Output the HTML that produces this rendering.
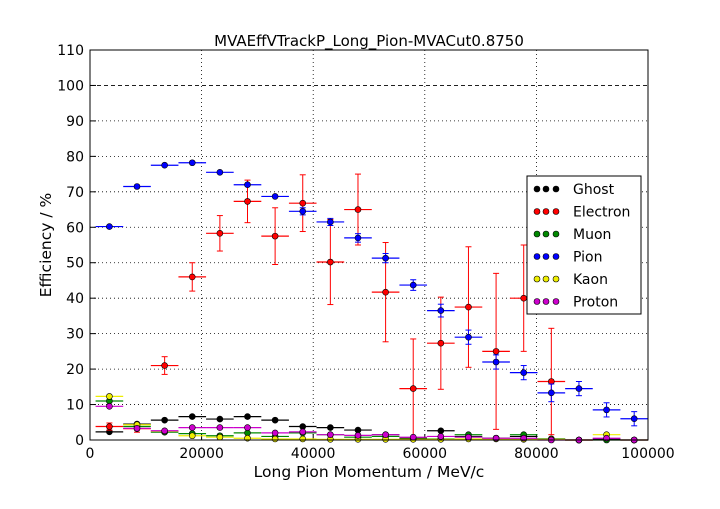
<!DOCTYPE html>
<html><head><meta charset="utf-8"><style>
body{margin:0;background:#fff;}
svg text{font-family:"DejaVu Sans","Liberation Sans",sans-serif;}
</style></head><body>
<svg id="chart" width="720" height="504">
<rect width="720" height="504" fill="#fff"/>
<text x="369" y="46" text-anchor="middle" font-size="15">MVAEffVTrackP_Long_Pion-MVACut0.8750</text>
<text x="369" y="477" text-anchor="middle" font-size="15.5">Long Pion Momentum / MeV/c</text>
<text x="51" y="245" text-anchor="middle" font-size="15.5" transform="rotate(-90 51 245)">Efficiency / %</text>
<g id="grid"></g><g id="marks"></g>
<rect x="90" y="50" width="558" height="390" fill="none" stroke="#000"/>
<g id="legend"></g>
</svg>
<script>
const bins=[3475,8425,13375,18325,23275,28225,33175,38125,43075,48025,52975,57925,62875,67825,72775,77725,82675,87625,92575,97525];
const halfWidth=2475;
const ghost=[2.3,4.5,5.6,6.6,5.9,6.6,5.6,3.8,3.5,2.8,1.5,0.5,2.6,1,0.5,1,0.3,0,0.3,0];
const electron=[3.8,3.2,21,46,58.3,67.3,57.5,66.8,50.2,65,41.7,14.5,27.3,37.5,25,40,16.5,0,null,null];
const electronErr=[1,1,2.5,4,5,6,8,8,12,10,14,14,13,17,22,15,15,0,0,0];
const muon=[11,3.8,2.2,1.8,1.2,2,1,2,1.5,0.8,1,0.3,0.3,1.5,0.5,1.5,0.3,0,0,0];
const pion=[60.2,71.5,77.5,78.2,75.5,72,68.7,64.5,61.5,57,51.3,43.7,36.5,29,22,19,13.3,14.5,8.5,6];
const pionErr=[0.5,0.5,0.5,0.5,0.6,0.7,0.8,1,1,1.2,1.3,1.5,1.8,2,2,2,2.5,2,2,2];
const kaon=[12.3,4.3,2.5,1.2,0.8,0.5,0.3,0.3,0.2,0.2,0.2,0.2,0.2,0.3,0.3,0.2,0.2,0,1.5,0];
const proton=[9.5,3.3,2.6,3.5,3.5,3.5,2,2.3,1.5,1.3,1.5,0.8,1,0.8,0.5,0.5,0,0,0.5,0];
const xTicks=[0,20000,40000,60000,80000,100000];
const yTicks=[0,10,20,30,40,50,60,70,80,90,100,110];
const X=v=>90+v/100000*558, Y=v=>440-v/110*390;
const NS="http://www.w3.org/2000/svg";
function el(t,a,p){const e=document.createElementNS(NS,t);for(const k in a)e.setAttribute(k,a[k]);p.appendChild(e);return e;}
const grid=document.getElementById('grid'),marks=document.getElementById('marks');
xTicks.forEach(t=>{
 if(t>0&&t<100000){const g=el('line',{x1:X(t),x2:X(t),y1:50,y2:440,stroke:'#000','stroke-dasharray':'1,3','stroke-width':0.8},grid);
 }
 const tk=el('line',{x1:X(t),x2:X(t),y1:440,y2:434,stroke:'#000'},grid);
 
 const tx=el('text',{x:X(t),y:458,'text-anchor':'middle','font-size':14},grid);tx.textContent=t;
 
});
yTicks.forEach(t=>{
 if(t>0&&t<110){const g=el('line',{x1:90,x2:648,y1:Y(t),y2:Y(t),stroke:'#000','stroke-dasharray':t==100?'4,3':'1,3','stroke-width':0.8},grid);
 }
 const tk=el('line',{x1:90,x2:96,y1:Y(t),y2:Y(t),stroke:'#000'},grid);
 
 const tx=el('text',{x:84,y:Y(t)+5,'text-anchor':'end','font-size':14},grid);tx.textContent=t;
 
});
const series=[['Ghost','#000',ghost,null],['Electron','#f00',electron,electronErr],['Muon','#080',muon,null],['Pion','#00f',pion,pionErr],['Kaon','#ee0',kaon,null],['Proton','#c0c',proton,null]];
series.forEach(([name,c,vals,err])=>{
 const g=el('g',{},marks);
 
 vals.forEach((v,i)=>{
  if(v===null)return;
  const cx=X(bins[i]),cy=Y(v);
  el('line',{x1:X(bins[i]-halfWidth),x2:X(bins[i]+halfWidth),y1:cy,y2:cy,stroke:c,'stroke-width':1.2},g);
  const e=err?err[i]:0.4;
  if(e>0.8){el('line',{x1:cx,x2:cx,y1:Y(v+e),y2:Y(Math.max(0,v-e)),stroke:c},g);
   el('line',{x1:cx-3,x2:cx+3,y1:Y(v+e),y2:Y(v+e),stroke:c},g);
   el('line',{x1:cx-3,x2:cx+3,y1:Y(Math.max(0,v-e)),y2:Y(Math.max(0,v-e)),stroke:c},g);}
  const p=el('circle',{cx:cx,cy:cy,r:3,fill:c,stroke:'#000','stroke-width':0.6},g);
  
 });
});
const lg=document.getElementById('legend');
el('rect',{x:527,y:176,width:114,height:138,fill:'#fff',stroke:'#000'},lg);
series.forEach(([name,c],i)=>{
 const y=189+i*22.5;
 const e=el('g',{},lg);
 
 [537,546,556].forEach(x=>el('circle',{cx:x,cy:y,r:3,fill:c,stroke:'#000','stroke-width':0.6},e));
 const t=el('text',{x:573,y:y+5,'font-size':14},e);t.textContent=name;
});
</script>
</body></html>
